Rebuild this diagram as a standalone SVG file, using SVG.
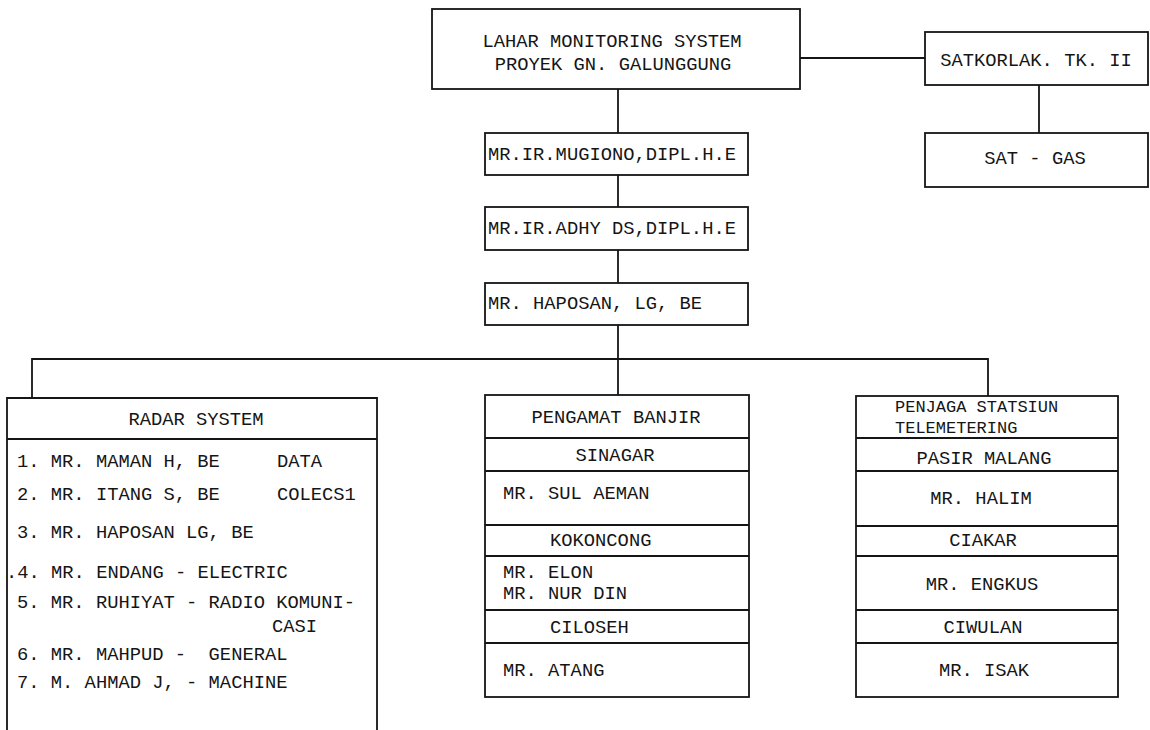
<svg xmlns="http://www.w3.org/2000/svg" width="1150" height="730" viewBox="0 0 1150 730" xml:space="preserve">
<style>
.box{fill:#fff;stroke:#151515;stroke-width:1.8}
.ln{fill:none;stroke:#151515;stroke-width:1.8}
.t{font-family:"Liberation Mono","DejaVu Sans Mono",monospace;font-size:18.8px;fill:#151515;white-space:pre}
.s{font-size:17px}
.c{text-anchor:middle}
</style>
<rect width="1150" height="730" fill="#fff"/>
<g id="connectors">
<line class="ln" x1="800" y1="58" x2="925" y2="58"/>
<line class="ln" x1="1039" y1="85" x2="1039" y2="133"/>
<line class="ln" x1="618" y1="89" x2="618" y2="133"/>
<line class="ln" x1="618" y1="175" x2="618" y2="207"/>
<line class="ln" x1="618" y1="250" x2="618" y2="283"/>
<line class="ln" x1="618" y1="325" x2="618" y2="395"/>
<polyline class="ln" points="32,398 32,359 988,359 988,396"/>
</g>
<g id="node-lahar">
<rect class="box" x="432" y="9" width="368" height="80"/>
<text class="t c" x="612" y="47">LAHAR MONITORING SYSTEM</text>
<text class="t c" x="613" y="70">PROYEK GN. GALUNGGUNG</text>
</g>
<g id="node-satkorlak">
<rect class="box" x="925" y="32" width="223" height="53"/>
<text class="t c" x="1036" y="66">SATKORLAK. TK. II</text>
</g>
<g id="node-satgas">
<rect class="box" x="925" y="133" width="223" height="54"/>
<text class="t c" x="1035" y="164">SAT - GAS</text>
</g>
<g id="node-mugiono">
<rect class="box" x="485" y="133" width="263" height="42"/>
<text class="t" x="488" y="160">MR.IR.MUGIONO,DIPL.H.E</text>
</g>
<g id="node-adhy">
<rect class="box" x="485" y="207" width="263" height="43"/>
<text class="t" x="488" y="234">MR.IR.ADHY DS,DIPL.H.E</text>
</g>
<g id="node-haposan">
<rect class="box" x="485" y="283" width="263" height="42"/>
<text class="t" x="488" y="309">MR. HAPOSAN, LG, BE</text>
</g>
<g id="node-radar">
<path class="ln" d="M7,731 V398 H377 V731"/>
<line class="ln" x1="7" y1="439" x2="377" y2="439"/>
<text class="t c" x="196" y="425">RADAR SYSTEM</text>
<text class="t" x="17" y="467">1. MR. MAMAN H, BE</text>
<text class="t" x="277" y="467">DATA</text>
<text class="t" x="17" y="500">2. MR. ITANG S, BE</text>
<text class="t" x="277" y="500">COLECS1</text>
<text class="t" x="17" y="538">3. MR. HAPOSAN LG, BE</text>
<text class="t" x="6" y="578">.4. MR. ENDANG - ELECTRIC</text>
<text class="t" x="17" y="608">5. MR. RUHIYAT - RADIO KOMUNI-</text>
<text class="t" x="272" y="632">CASI</text>
<text class="t" x="17" y="660">6. MR. MAHPUD -  GENERAL</text>
<text class="t" x="17" y="688">7. M. AHMAD J, - MACHINE</text>
</g>
<g id="node-pengamat">
<rect class="box" x="485" y="395" width="264" height="302"/>
<line class="ln" x1="485" y1="438" x2="749" y2="438"/>
<line class="ln" x1="485" y1="471" x2="749" y2="471"/>
<line class="ln" x1="485" y1="525" x2="749" y2="525"/>
<line class="ln" x1="485" y1="556" x2="749" y2="556"/>
<line class="ln" x1="485" y1="610" x2="749" y2="610"/>
<line class="ln" x1="485" y1="643" x2="749" y2="643"/>
<text class="t c" x="616" y="423">PENGAMAT BANJIR</text>
<text class="t c" x="615" y="461">SINAGAR</text>
<text class="t" x="503" y="499">MR. SUL AEMAN</text>
<text class="t" x="550" y="546">KOKONCONG</text>
<text class="t" x="503" y="578">MR. ELON</text>
<text class="t" x="503" y="599">MR. NUR DIN</text>
<text class="t" x="550" y="633">CILOSEH</text>
<text class="t" x="503" y="676">MR. ATANG</text>
</g>
<g id="node-penjaga">
<rect class="box" x="856" y="396" width="262" height="301"/>
<line class="ln" x1="856" y1="438" x2="1118" y2="438"/>
<line class="ln" x1="856" y1="471" x2="1118" y2="471"/>
<line class="ln" x1="856" y1="526" x2="1118" y2="526"/>
<line class="ln" x1="856" y1="556" x2="1118" y2="556"/>
<line class="ln" x1="856" y1="610" x2="1118" y2="610"/>
<line class="ln" x1="856" y1="643" x2="1118" y2="643"/>
<text class="t s" x="895" y="412">PENJAGA STATSIUN</text>
<text class="t s" x="895" y="433">TELEMETERING</text>
<text class="t c" x="984" y="464">PASIR MALANG</text>
<text class="t c" x="981" y="504">MR. HALIM</text>
<text class="t c" x="983" y="546">CIAKAR</text>
<text class="t c" x="982" y="590">MR. ENGKUS</text>
<text class="t c" x="983" y="633">CIWULAN</text>
<text class="t c" x="984" y="676">MR. ISAK</text>
</g>
</svg>
